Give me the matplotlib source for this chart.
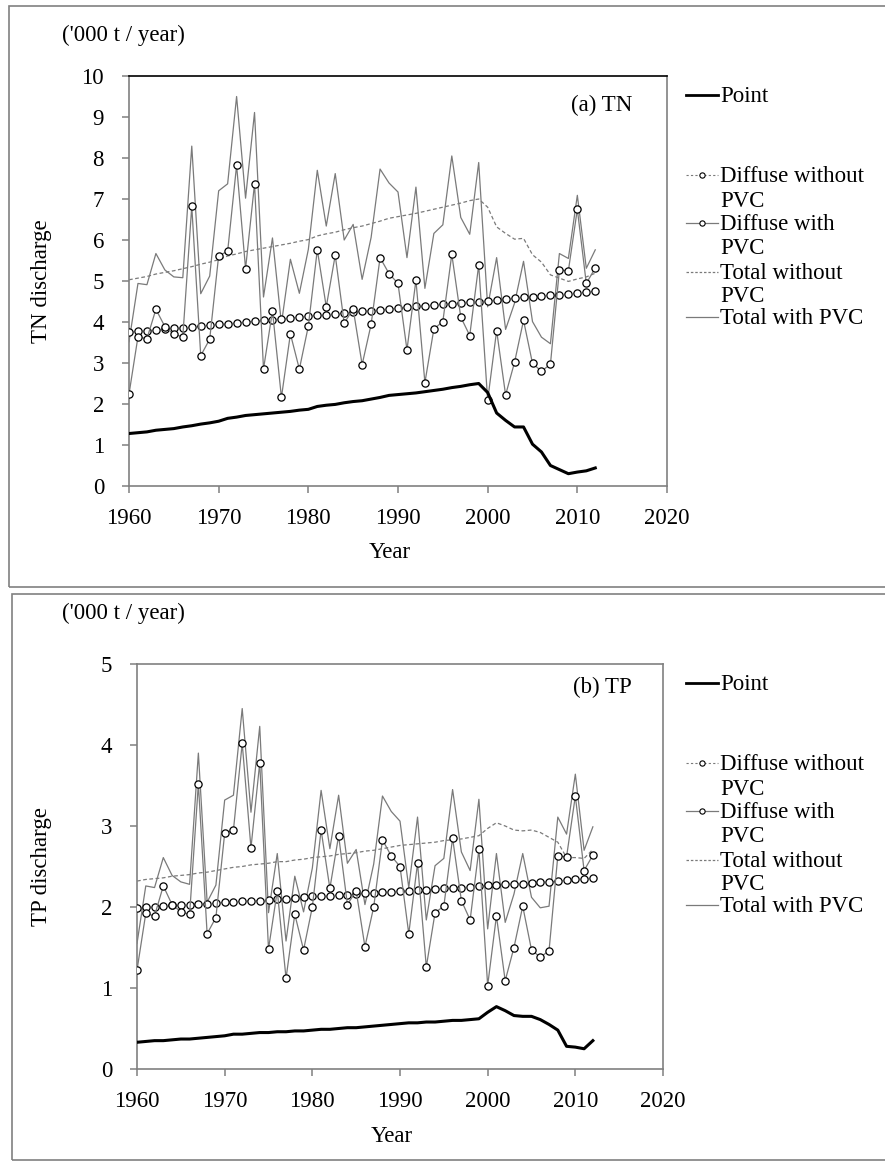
import matplotlib
matplotlib.use('Agg')
import matplotlib.pyplot as plt
from matplotlib.lines import Line2D
from matplotlib.patches import Rectangle

years = list(range(1960, 2013))

tn_point = [1.28, 1.30, 1.32, 1.36, 1.38, 1.40, 1.44, 1.47, 1.51, 1.54,
            1.58, 1.65, 1.68, 1.72, 1.74, 1.76, 1.78, 1.80, 1.82, 1.85,
            1.87, 1.94, 1.97, 1.99, 2.03, 2.06, 2.08, 2.12, 2.16, 2.21,
            2.23, 2.25, 2.27, 2.30, 2.33, 2.36, 2.40, 2.43, 2.47, 2.50,
            2.28, 1.78, 1.60, 1.44, 1.44, 1.02, 0.83, 0.50, 0.40, 0.30,
            0.34, 0.37, 0.44]
tn_diffuse_wo = [3.75, 3.77, 3.79, 3.81, 3.83, 3.85, 3.86, 3.88, 3.90, 3.92,
                 3.94, 3.96, 3.98, 4.00, 4.02, 4.04, 4.06, 4.08, 4.10, 4.12,
                 4.14, 4.16, 4.18, 4.20, 4.22, 4.24, 4.26, 4.28, 4.30, 4.32,
                 4.34, 4.36, 4.38, 4.40, 4.42, 4.44, 4.45, 4.47, 4.49, 4.50,
                 4.52, 4.54, 4.56, 4.58, 4.60, 4.62, 4.63, 4.65, 4.67, 4.69,
                 4.71, 4.73, 4.75]
tn_diffuse_w = [2.24, 3.64, 3.59, 4.31, 3.89, 3.70, 3.64, 6.82, 3.18, 3.58,
                5.62, 5.72, 7.82, 5.30, 7.37, 2.85, 4.27, 2.16, 3.71, 2.85,
                3.90, 5.76, 4.37, 5.63, 3.97, 4.32, 2.96, 3.94, 5.57, 5.18,
                4.94, 3.32, 5.02, 2.52, 3.83, 4.01, 5.65, 4.12, 3.67, 5.39,
                2.09, 3.79, 2.22, 3.02, 4.04, 2.99, 2.80, 2.97, 5.27, 5.25,
                6.75, 4.94, 5.32]
tn_total_wo = [5.03, 5.07, 5.11, 5.17, 5.21, 5.25, 5.30, 5.35, 5.41, 5.46,
               5.52, 5.61, 5.66, 5.72, 5.76, 5.80, 5.84, 5.88, 5.92, 5.97,
               6.01, 6.10, 6.15, 6.19, 6.25, 6.30, 6.34, 6.40, 6.46, 6.53,
               6.57, 6.61, 6.65, 6.70, 6.75, 6.80, 6.85, 6.90, 6.96, 7.00,
               6.80, 6.32, 6.16, 6.02, 6.04, 5.64, 5.46, 5.15, 5.07, 4.99,
               5.05, 5.10, 5.19]
tn_total_w = [3.52, 4.94, 4.91, 5.67, 5.27, 5.10, 5.08, 8.29, 4.69, 5.12,
              7.20, 7.37, 9.50, 7.02, 9.11, 4.61, 6.05, 3.96, 5.53, 4.70,
              5.77, 7.70, 6.34, 7.62, 6.00, 6.38, 5.04, 6.06, 7.73, 7.39,
              7.17, 5.57, 7.29, 4.82, 6.16, 6.37, 8.05, 6.55, 6.14, 7.89,
              4.37, 5.57, 3.82, 4.46, 5.48, 4.01, 3.63, 3.47, 5.67, 5.55,
              7.09, 5.31, 5.76]

tp_point = [0.33, 0.34, 0.35, 0.35, 0.36, 0.37, 0.37, 0.38, 0.39, 0.40,
            0.41, 0.43, 0.43, 0.44, 0.45, 0.45, 0.46, 0.46, 0.47, 0.47,
            0.48, 0.49, 0.49, 0.50, 0.51, 0.51, 0.52, 0.53, 0.54, 0.55,
            0.56, 0.57, 0.57, 0.58, 0.58, 0.59, 0.60, 0.60, 0.61, 0.62,
            0.70, 0.77, 0.72, 0.66, 0.65, 0.65, 0.61, 0.55, 0.48, 0.28,
            0.27, 0.25, 0.35]
tp_diffuse_wo = [1.99, 2.00, 2.00, 2.01, 2.02, 2.02, 2.03, 2.04, 2.04, 2.05,
                 2.06, 2.06, 2.07, 2.08, 2.08, 2.09, 2.10, 2.10, 2.11, 2.12,
                 2.13, 2.13, 2.14, 2.15, 2.15, 2.16, 2.17, 2.17, 2.18, 2.19,
                 2.20, 2.20, 2.21, 2.21, 2.22, 2.23, 2.23, 2.24, 2.25, 2.26,
                 2.27, 2.27, 2.28, 2.29, 2.29, 2.30, 2.31, 2.31, 2.32, 2.33,
                 2.34, 2.35, 2.36]
tp_diffuse_w = [1.22, 1.92, 1.89, 2.26, 2.03, 1.94, 1.91, 3.52, 1.67, 1.87,
                2.91, 2.95, 4.02, 2.73, 3.78, 1.48, 2.20, 1.12, 1.91, 1.47,
                2.00, 2.95, 2.23, 2.88, 2.03, 2.20, 1.51, 2.00, 2.83, 2.63,
                2.50, 1.67, 2.54, 1.26, 1.93, 2.01, 2.85, 2.08, 1.84, 2.71,
                1.03, 1.89, 1.09, 1.50, 2.01, 1.47, 1.38, 1.46, 2.63, 2.62,
                3.37, 2.45, 2.64]
tp_total_wo = [2.32, 2.34, 2.35, 2.36, 2.38, 2.39, 2.40, 2.42, 2.43, 2.45,
               2.47, 2.49, 2.50, 2.52, 2.53, 2.54, 2.56, 2.56, 2.58, 2.59,
               2.61, 2.62, 2.63, 2.65, 2.66, 2.67, 2.69, 2.70, 2.72, 2.74,
               2.76, 2.77, 2.78, 2.79, 2.80, 2.82, 2.83, 2.84, 2.86, 2.88,
               2.97, 3.04, 3.00, 2.95, 2.94, 2.95, 2.92, 2.86, 2.80, 2.61,
               2.61, 2.60, 2.71]
tp_total_w = [1.55, 2.26, 2.24, 2.61, 2.39, 2.31, 2.28, 3.90, 2.06, 2.27,
              3.32, 3.38, 4.45, 3.17, 4.23, 1.93, 2.66, 1.58, 2.38, 1.94,
              2.48, 3.44, 2.72, 3.38, 2.54, 2.71, 2.03, 2.53, 3.37, 3.18,
              3.06, 2.24, 3.11, 1.84, 2.51, 2.60, 3.45, 2.68, 2.45, 3.33,
              1.73, 2.66, 1.81, 2.16, 2.66, 2.12, 1.99, 2.01, 3.11, 2.90,
              3.64, 2.70, 2.99]

x_ticks = [1960, 1970, 1980, 1990, 2000, 2010, 2020]
legend_labels = [["Point"], ["Diffuse without", "PVC"], ["Diffuse with", "PVC"],
                 ["Total without", "PVC"], ["Total with PVC"]]

plt.rcParams['font.family'] = ['Liberation Serif', 'DejaVu Serif']
W, H = 885, 1162
fig = plt.figure(figsize=(W / 100, H / 100), dpi=100)

def fx(x):
    return x / W

def fy(y):
    return 1 - y / H

GRAY = '#808080'
LGRAY = '#7a7a7a'
FS = 16.5

panels = [
    dict(rect=(129, 76, 667, 486), frame=(9, 6, 895, 587), ylim=10,
         yticks=range(0, 11), point=tn_point, dwo=tn_diffuse_wo, dw=tn_diffuse_w,
         two=tn_total_wo, tw=tn_total_w, ylabel='TN discharge', tag='(a) TN',
         tag_y=111, unit_y=35, topcol='black'),
    dict(rect=(137, 664, 663, 1069), frame=(12, 594, 895, 1160), ylim=5,
         yticks=range(0, 6), point=tp_point, dwo=tp_diffuse_wo, dw=tp_diffuse_w,
         two=tp_total_wo, tw=tp_total_w, ylabel='TP discharge', tag='(b) TP',
         tag_y=693, unit_y=613, topcol=GRAY),
]

for p in panels:
    x0, y0, x1, y1 = p['rect']
    # outer frame
    fx0, fy0, fx1, fy1 = p['frame']
    fig.add_artist(Rectangle((fx(fx0), fy(fy1)), fx(fx1) - fx(fx0), fy(fy0) - fy(fy1),
                             transform=fig.transFigure, fill=False,
                             edgecolor=GRAY, linewidth=1.2))
    ax = fig.add_axes([fx(x0), fy(y1), fx(x1) - fx(x0), fy(y0) - fy(y1)])
    ax.plot(years, p['tw'], color=LGRAY, lw=0.9, zorder=2)
    ax.plot(years, p['two'], color=LGRAY, lw=0.9, ls=(0, (3, 2)), zorder=2)
    ax.plot(years, p['dw'], color=LGRAY, lw=0.9, marker='o', ms=5.2,
            mfc='white', mec='black', mew=0.9, zorder=4)
    ax.plot(years, p['dwo'], color=LGRAY, lw=0.6, ls=':', marker='o', ms=5.2,
            mfc='white', mec='black', mew=0.9, zorder=3)
    ax.plot(years, p['point'], color='black', lw=2.2, zorder=5)

    ax.set_xlim(1960, 2020)
    ax.set_ylim(0, p['ylim'])
    ax.set_xticks(x_ticks)
    ax.set_yticks(list(p['yticks']))
    for s in ['left', 'bottom', 'right']:
        ax.spines[s].set_color(GRAY)
        ax.spines[s].set_linewidth(1.2)
    ax.spines['top'].set_color(p['topcol'])
    ax.spines['top'].set_linewidth(1.2)
    ax.tick_params(axis='both', direction='out', length=5, width=1.1,
                   color=GRAY, labelsize=FS, labelcolor='black')
    ax.tick_params(axis='y', pad=13)
    ax.tick_params(axis='x', pad=11)

    # panel tag
    fig.text(fx(632), fy(p['tag_y']), p['tag'], ha='right', va='baseline', fontsize=FS)
    # unit label
    fig.text(fx(62), fy(p['unit_y']), "('000 t / year)", ha='left', va='center', fontsize=FS)
    # axis labels
    fig.text(fx(42), fy((y0 + y1) / 2), p['ylabel'], rotation=90, ha='center',
             va='center', fontsize=FS)
    fig.text(fx((x0 + x1) / 2 - 8), fy(y1 + 67), 'Year', ha='center', va='center', fontsize=FS)

    # legend (drawn beside the plot)
    styles = [
        dict(color='black', lw=2.0, ls='-', marker=None),
        dict(color=LGRAY, lw=0.8, ls=(0, (2, 2)), marker='o'),
        dict(color=LGRAY, lw=0.9, ls='-', marker='o'),
        dict(color=LGRAY, lw=0.9, ls=(0, (2, 1.5)), marker=None),
        dict(color=LGRAY, lw=0.9, ls='-', marker=None),
    ]
    offsets = [[19], [99, 124], [147, 171], [196, 219], [241]]
    for lab, st, offs in zip(legend_labels, styles, offsets):
        yy = y0 + offs[0]
        fig.add_artist(Line2D([fx(686), fx(718)], [fy(yy), fy(yy)],
                              transform=fig.transFigure, color=st['color'],
                              lw=st['lw'], ls=st['ls']))
        if st['marker']:
            fig.add_artist(Line2D([fx(702)], [fy(yy)], transform=fig.transFigure,
                                  marker='o', ms=3.8, mfc='white', mec='black',
                                  mew=0.8, ls='none'))
        for line, o in zip(lab, offs):
            fig.text(fx(720), fy(y0 + o + 7), line, ha='left', va='baseline', fontsize=FS)

fig.savefig('out.png', dpi=100)
